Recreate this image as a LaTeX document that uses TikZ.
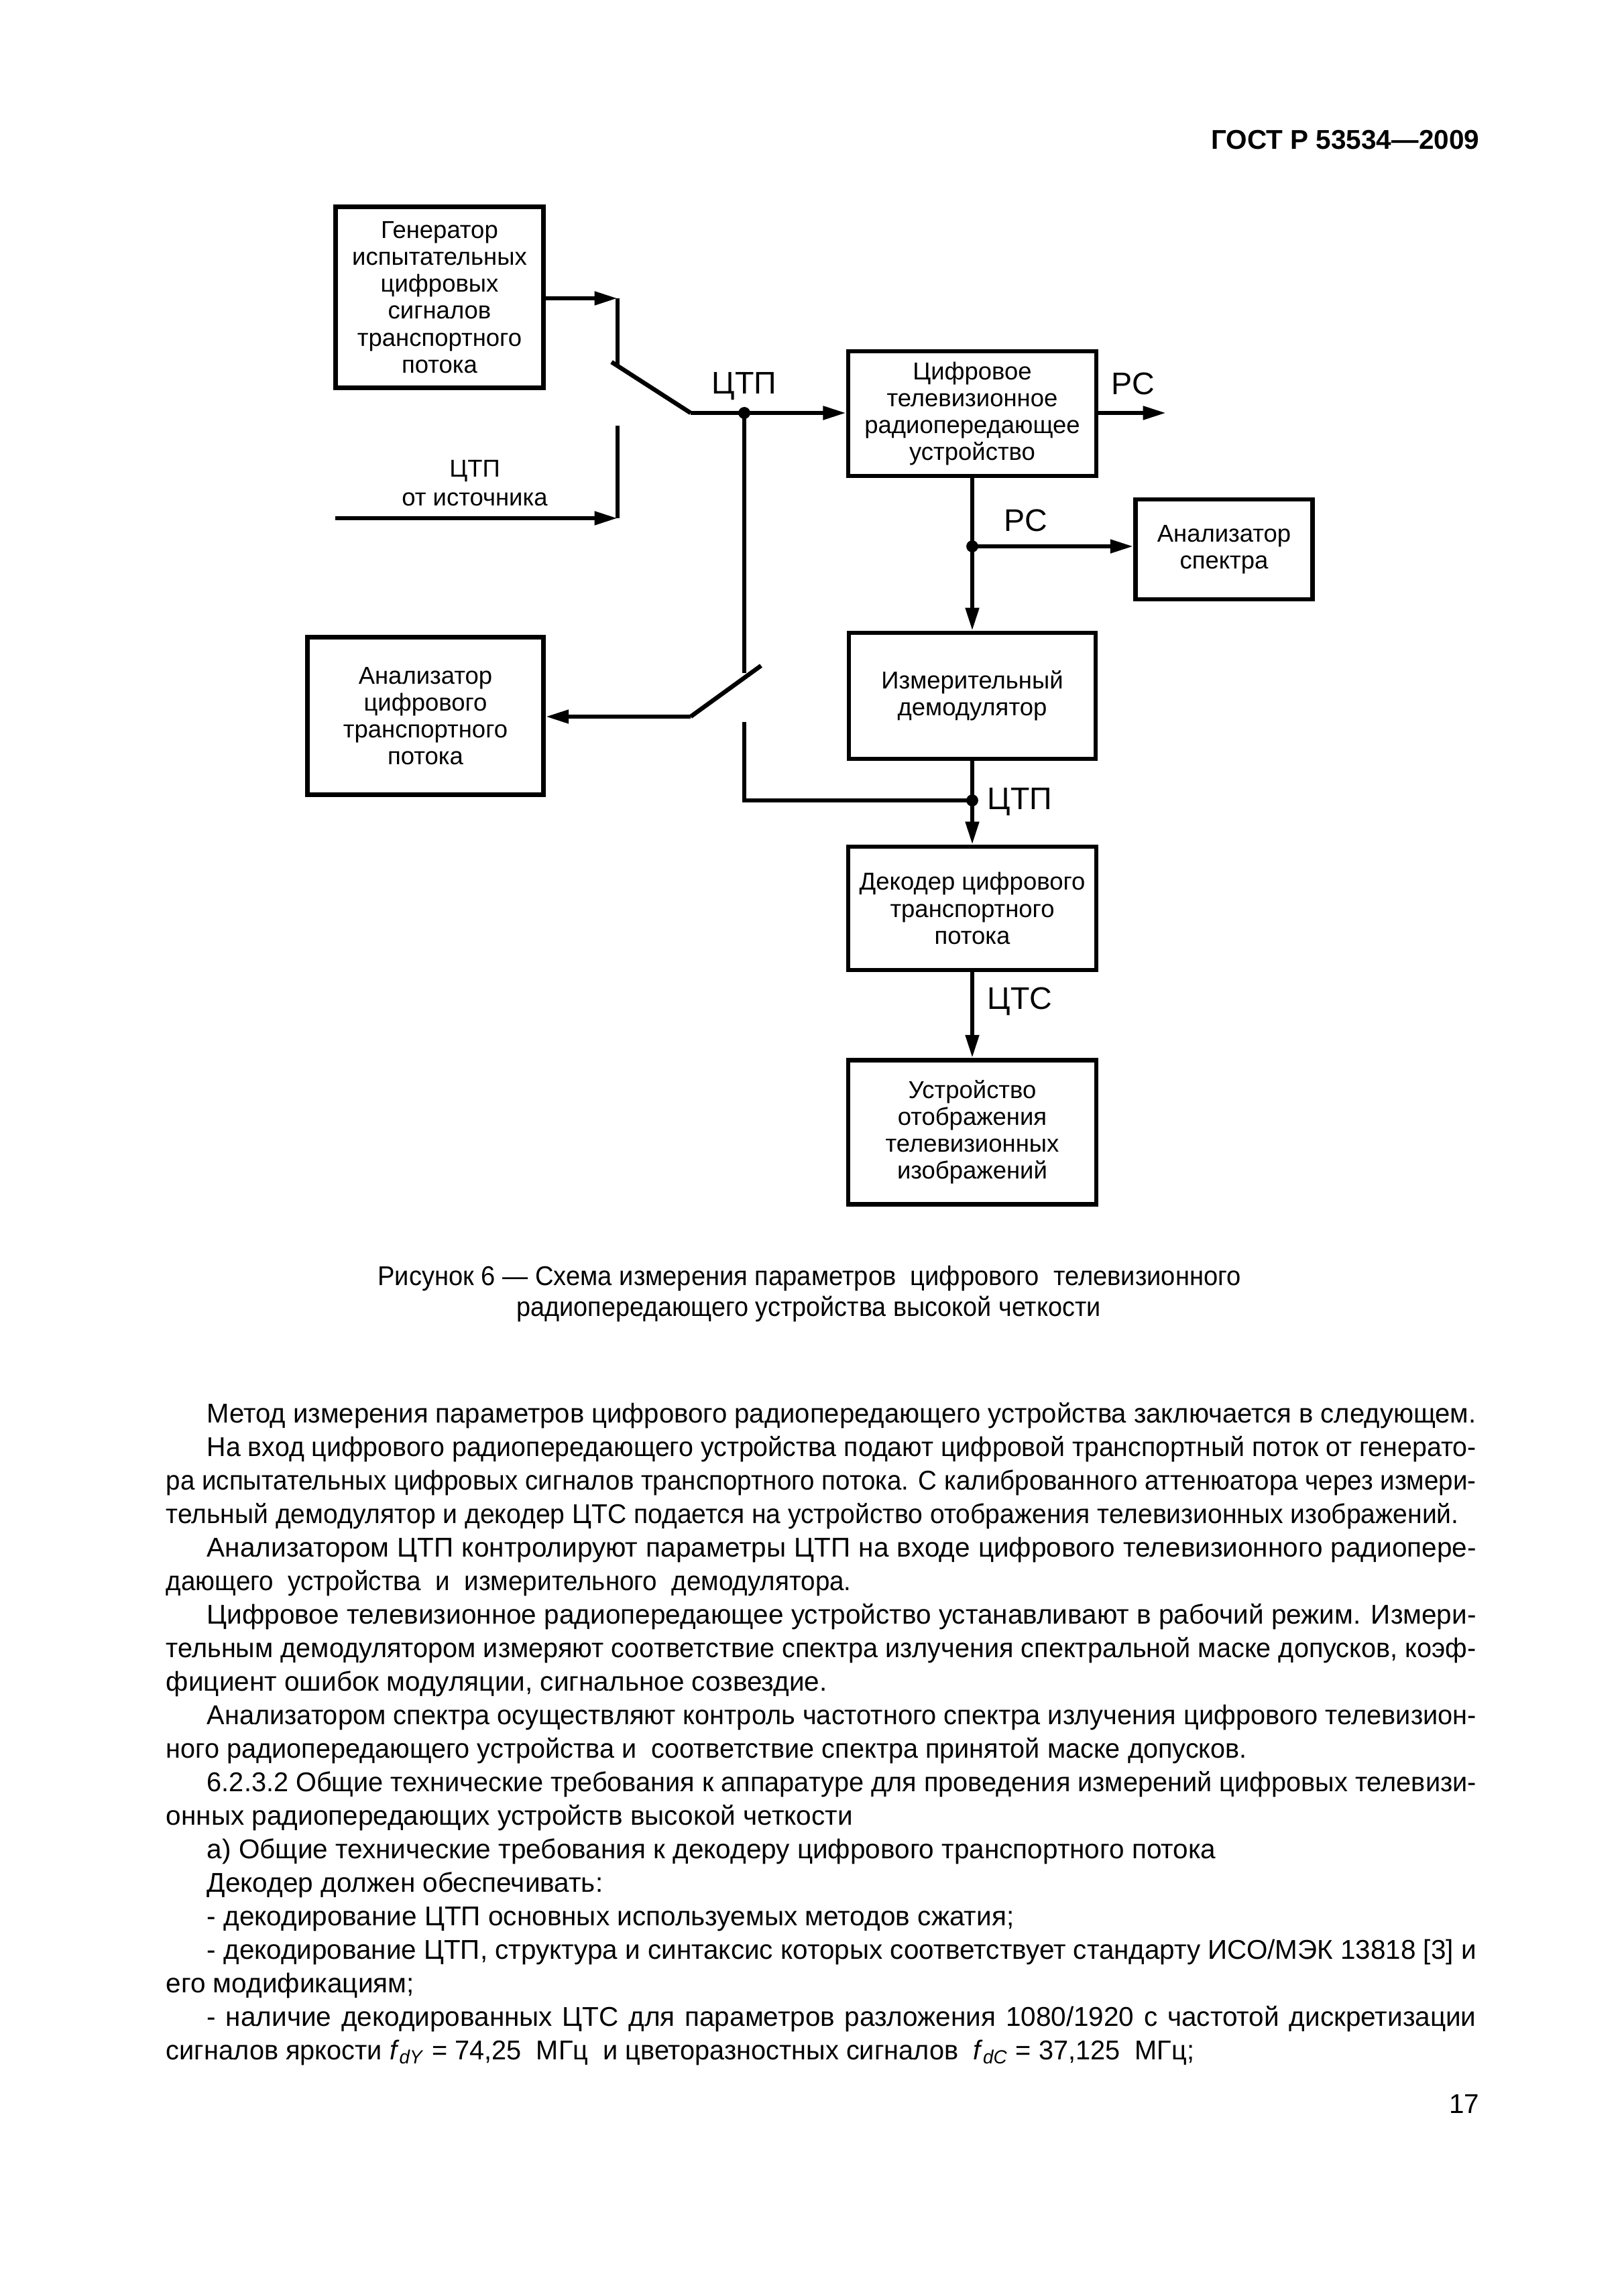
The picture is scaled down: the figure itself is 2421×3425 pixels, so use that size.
\documentclass[tikz,border=0pt]{standalone}
\usepackage{fontspec}
\setmainfont{Liberation Sans}
\usepackage{graphicx}
\usetikzlibrary{arrows.meta}
\newsavebox\lnbox
\newcommand\jline[2]{\sbox\lnbox{#2}\ifdim\wd\lnbox>#1\relax\resizebox{#1}{\height}{\usebox\lnbox}\else\makebox[#1][s]{#2}\fi}
\tikzset{
  box/.style={draw, line width=1.6pt, inner sep=0pt, align=center, font=\fontsize{9}{9.9}\selectfont},
  ln/.style={line width=1.6pt, line join=miter},
  arr/.style={line width=1.6pt, -{Triangle[length=8.5pt,width=4.8pt]}},
  jdot/.style={circle, fill, inner sep=0pt, minimum size=4.4pt},
  lbl/.style={inner sep=0pt, font=\fontsize{11.5}{12}\selectfont},
  slbl/.style={inner sep=0pt, font=\fontsize{9}{10}\selectfont},
  bodytxt/.style={inner sep=0pt, anchor=base west, font=\fontsize{10}{12}\selectfont},
  captxt/.style={inner sep=0pt, anchor=base, font=\fontsize{10}{12}\selectfont}
}
\begin{document}
\begin{tikzpicture}[x=0.086741mm,y=-0.086741mm]
\fill[white] (0,0) rectangle (2421,3425);
\useasboundingbox (0,0) rectangle (2421,3425);

% header
\node[inner sep=0pt, anchor=base east, font=\bfseries\fontsize{10}{12}\selectfont] (hdr) at (2207,222) {ГОСТ Р 53534—2009};

% boxes
\node[box, minimum width=76.5pt, minimum height=66.7pt] (gen) at (655.5,443.5) {Генератор\\испытательных\\цифровых\\сигналов\\транспортного\\потока};
\node[box, minimum width=91.3pt, minimum height=45.8pt] (tv) at (1450,617) {Цифровое\\телевизионное\\радиопередающее\\устройство};
\node[box, minimum width=65.2pt, minimum height=36.7pt] (spec) at (1825.5,819.5) {Анализатор\\спектра};
\node[box, minimum width=90.8pt, minimum height=46.3pt] (demod) at (1450,1038) {Измерительный\\демодулятор};
\node[box, minimum width=86.9pt, minimum height=58.1pt] (ana) at (634.5,1068) {Анализатор\\цифрового\\транспортного\\потока};
\node[box, minimum width=91.3pt, minimum height=45.3pt] (dec) at (1450,1355) {Декодер цифрового\\транспортного\\потока};
\node[box, minimum width=91.3pt, minimum height=53.1pt] (disp) at (1450,1689) {Устройство\\отображения\\телевизионных\\изображений};

% coordinates
\coordinate (s1top) at (921,445);
\coordinate (s1bot) at (921,546);
\coordinate (bl1) at (912,540);
\coordinate (piv1) at (1030,616);
\coordinate (j1c) at (1110,616);
\coordinate (s2top) at (921,635);
\coordinate (s2bot) at (921,773);
\coordinate (src) at (500,773);
\coordinate (tvout) at (1739,616);
\coordinate (j2c) at (1450,815);
\coordinate (v1end) at (1110,1004);
\coordinate (piv2) at (1030,1069);
\coordinate (bl2) at (1135,993);
\coordinate (v2top) at (1110,1077);
\coordinate (v2bot) at (1110,1194);
\coordinate (j3c) at (1450,1194);

% connectors
\draw[arr] (gen.east |- s1top) -- (s1top);
\draw[ln] (s1top) -- (s1bot);
\draw[ln] (bl1) -- (piv1);
\draw[arr] (piv1) -- (piv1 -| tv.west);
\draw[ln] (s2top) -- (s2bot);
\draw[arr] (src) -- (s2bot);
\draw[arr] (tv.east |- j1c) -- (tvout);
\draw[arr] (tv.south) -- (demod.north);
\draw[arr] (j2c) -- (j2c -| spec.west);
\draw[ln] (j1c) -- (v1end);
\draw[ln] (bl2) -- (piv2);
\draw[arr] (piv2) -- (piv2 -| ana.east);
\draw[ln] (v2top) -- (v2bot) -- (j3c);
\draw[arr] (demod.south) -- (dec.north);
\draw[arr] (dec.south) -- (disp.north);
\node[jdot] (d1) at (j1c) {};
\node[jdot] (d2) at (j2c) {};
\node[jdot] (d3) at (j3c) {};

% labels
\node[lbl] (ctp1) at (1110,576) {ЦТП};
\node[lbl] (rc1) at (1690,572) {РС};
\node[lbl] (rc2) at (1530,776) {РС};
\node[lbl] (ctp3) at (1521,1196) {ЦТП};
\node[lbl] (cts) at (1521,1494) {ЦТС};
\node[slbl] (ctp2) at (708,703) {ЦТП};
\node[slbl] (srclbl) at (708,745) {от источника};

% caption
\node[captxt] (cap1) at (1207,1917) {\jline{317.7pt}{Рисунок 6 — Схема измерения параметров\ \ цифрового\ \ телевизионного}};
\node[captxt] (cap2) at (1206,1963) {\jline{215pt}{радиопередающего устройства высокой четкости}};

% body text
\node[bodytxt] (l1) at (308,2122) {\jline{467.2pt}{Метод измерения параметров цифрового радиопередающего устройства заключается в следующем.}};
\node[bodytxt] (l2) at (308,2172) {\jline{467.2pt}{На вход цифрового радиопередающего устройства подают цифровой транспортный поток от генерато-}};
\node[bodytxt] (l3) at (247,2222) {\jline{482.2pt}{ра испытательных цифровых сигналов транспортного потока. С калиброванного аттенюатора через измери-}};
\node[bodytxt] (l4) at (247,2272) {\jline{475.8pt}{тельный демодулятор и декодер ЦТС подается на устройство отображения телевизионных изображений.}};
\node[bodytxt] (l5) at (308,2322) {\jline{467.2pt}{Анализатором ЦТП контролируют параметры ЦТП на входе цифрового телевизионного радиопере-}};
\node[bodytxt] (l6) at (247,2372) {\jline{252.2pt}{дающего\ \ устройства\ \ и\ \ измерительного\ \ демодулятора.}};
\node[bodytxt] (l7) at (308,2422) {\jline{467.2pt}{Цифровое телевизионное радиопередающее устройство устанавливают в рабочий режим. Измери-}};
\node[bodytxt] (l8) at (247,2472) {\jline{482.2pt}{тельным демодулятором измеряют соответствие спектра излучения спектральной маске допусков, коэф-}};
\node[bodytxt] (l9) at (247,2522) {фициент ошибок модуляции, сигнальное созвездие.};
\node[bodytxt] (l10) at (308,2572) {\jline{467.2pt}{Анализатором спектра осуществляют контроль частотного спектра излучения цифрового телевизион-}};
\node[bodytxt] (l11) at (247,2622) {\jline{397.8pt}{ного радиопередающего устройства и\ \ соответствие спектра принятой маске допусков.}};
\node[bodytxt] (l12) at (308,2672) {\jline{467.2pt}{6.2.3.2 Общие технические требования к аппаратуре для проведения измерений цифровых телевизи-}};
\node[bodytxt] (l13) at (247,2722) {онных радиопередающих устройств высокой четкости};
\node[bodytxt] (l14) at (308,2772) {а) Общие технические требования к декодеру цифрового транспортного потока};
\node[bodytxt] (l15) at (308,2822) {Декодер должен обеспечивать:};
\node[bodytxt] (l16) at (308,2872) {- декодирование ЦТП основных используемых методов сжатия;};
\node[bodytxt] (l17) at (308,2922) {\jline{467.2pt}{- декодирование ЦТП, структура и синтаксис которых соответствует стандарту ИСО/МЭК 13818 [3] и}};
\node[bodytxt] (l18) at (247,2972) {его модификациям;};
\node[bodytxt] (l19) at (308,3022) {\jline{467.2pt}{- наличие декодированных ЦТС для параметров разложения 1080/1920 с частотой дискретизации}};
\node[bodytxt] (l20) at (247,3072) {\jline{378.4pt}{сигналов яркости \textit{f}\textsubscript{\textit{dY}} = 74,25\ \ МГц\ \ и цветоразностных сигналов\ \ \textit{f}\textsubscript{\textit{dC}} = 37,125\ \ МГц;}};

% page number
\node[inner sep=0pt, anchor=base east, font=\fontsize{10}{12}\selectfont] (pg) at (2207,3152) {17};
\end{tikzpicture}
\end{document}
